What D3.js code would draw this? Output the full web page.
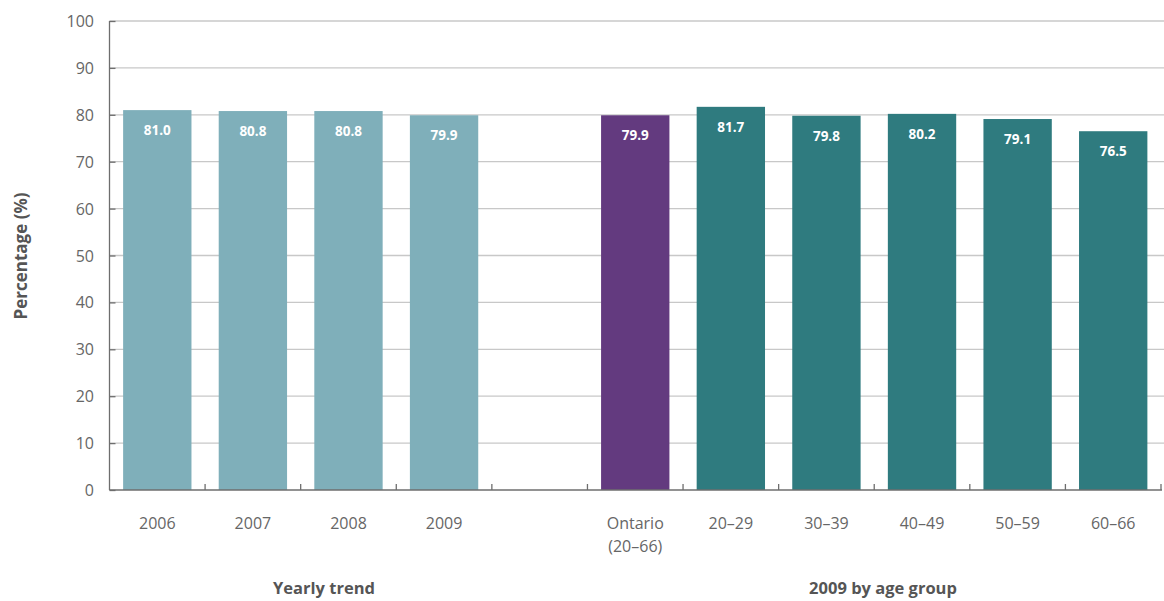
<!DOCTYPE html>
<html><head><meta charset="utf-8">
<script src="https://cdn.jsdelivr.net/npm/d3@7"></script>
<style>body{margin:0;background:#fff}svg{display:block}text{font-family:"Open Sans",sans-serif}</style>
</head><body>
<svg id="c" width="1164" height="601"></svg>
<script>
const categories = ["2006","2007","2008","2009","","Ontario\n(20–66)","20–29","30–39","40–49","50–59","60–66"];
const values = [81.0,80.8,80.8,79.9,null,79.9,81.7,79.8,80.2,79.1,76.5];
const groups = ["year","year","year","year","gap","ontario","age","age","age","age","age"];
const yTicks = [0,10,20,30,40,50,60,70,80,90,100];
const groupLabels = [{text:"Yearly trend",x:324},{text:"2009 by age group",x:883}];
const colors = {year:"#7fafba", ontario:"#633a7f", age:"#2f7b7f"};

const svg = d3.select("#c");
const pL = 109.5, pR = 1161, pT = 21, pB = 490;
const x = d3.scaleBand().domain(d3.range(categories.length)).range([pL,pR]).paddingInner(0.285).paddingOuter(0.1425);
const y = d3.scaleLinear().domain([0,100]).range([pB,pT]);

// gridlines
svg.append("g").selectAll("line").data(yTicks.filter(d=>d>0)).join("line")
  .attr("x1",pL).attr("x2",pR+3).attr("y1",d=>y(d)).attr("y2",d=>y(d))
  .attr("stroke","#c8c8c8").attr("stroke-width",1.3);

// bars
const data = categories.map((c,i)=>({c,i,v:values[i],g:groups[i]})).filter(d=>d.v!=null);
svg.append("g").selectAll("rect").data(data).join("rect")
  .attr("x",d=>x(d.i)).attr("width",x.bandwidth())
  .attr("y",d=>y(d.v)).attr("height",d=>pB-y(d.v))
  .attr("fill",d=>colors[d.g]);
svg.append("g").selectAll("text").data(data).join("text")
  .attr("x",d=>x(d.i)+x.bandwidth()/2).attr("y",d=>y(d.v)+25)
  .attr("text-anchor","middle").attr("fill","#fff").attr("font-weight","bold").attr("font-size",13.5)
  .text(d=>d.v.toFixed(1));

// y axis
const ya = svg.append("g").attr("transform",`translate(${pL},0)`)
  .call(d3.axisRight(y).tickValues(yTicks).tickSize(6).tickFormat(""));
ya.select(".domain").attr("stroke","#6e6e6e").attr("stroke-width",1.3).attr("d",`M0,${pT}V${pB}`);
ya.selectAll(".tick line").attr("stroke","#6e6e6e").attr("stroke-width",1.3);
svg.append("g").selectAll("text").data(yTicks).join("text")
  .attr("x",94).attr("y",d=>y(d)+6).attr("text-anchor","end")
  .attr("font-size",16).attr("fill","#666").text(d=>d);

// x axis
const bounds = d3.range(categories.length+1).map(i=>pL+i*x.step());
svg.append("line").attr("x1",pL).attr("x2",pR+1).attr("y1",pB).attr("y2",pB)
  .attr("stroke","#6e6e6e").attr("stroke-width",1.3);
svg.append("g").selectAll("line").data(bounds.slice(1)).join("line")
  .attr("x1",d=>d).attr("x2",d=>d).attr("y1",pB).attr("y2",pB-6)
  .attr("stroke","#6e6e6e").attr("stroke-width",1.3);
svg.append("g").selectAll("text").data(categories.map((c,i)=>({c,i}))).join("text")
  .attr("text-anchor","middle").attr("font-size",16).attr("fill","#666")
  .attr("transform",d=>`translate(${x(d.i)+x.bandwidth()/2},529)`)
  .each(function(d){
    const lines = d.c.split("\n");
    d3.select(this).selectAll("tspan").data(lines).join("tspan")
      .attr("x",0).attr("dy",(l,k)=>k===0?0:23).text(l=>l);
  });

// group labels
svg.append("g").selectAll("text").data(groupLabels).join("text")
  .attr("x",d=>d.x).attr("y",594).attr("text-anchor","middle")
  .attr("font-size",16.5).attr("font-weight","bold").attr("fill","#555").text(d=>d.text);

// y title
svg.append("text").attr("transform","translate(27,256) rotate(-90)")
  .attr("text-anchor","middle").attr("font-size",17).attr("font-weight","bold").attr("fill","#555")
  .text("Percentage (%)");
</script>
</body></html>
